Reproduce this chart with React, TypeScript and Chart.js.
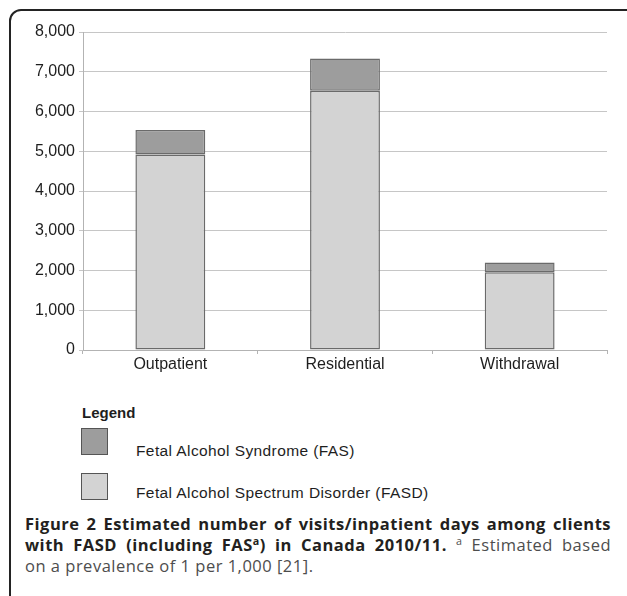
import React, { useEffect, useRef } from "react";
import { Chart, registerables } from "chart.js";

Chart.register(...registerables);

// Treatment settings on the x axis
const categories = ["Outpatient", "Residential", "Withdrawal"];
// Visits / inpatient days, stacked: FASD (excluding FAS) at the base, FAS on top
const fasdValues = [4920, 6520, 1955];
const fasValues = [615, 815, 245];
// Value axis range
const yMin = 0;
const yMax = 8000;
const yStep = 1000;

const seriesNames = ["Fetal Alcohol Syndrome (FAS)", "Fetal Alcohol Spectrum Disorder (FASD)"];
const seriesColors = ["#9d9d9d", "#d3d3d3"];
const barEdge = "#6a6a6a";

const axisFont = { family: "'Liberation Sans', Arial, sans-serif", size: 16 };

function BarChart() {
  const ref = useRef<HTMLCanvasElement | null>(null);

  useEffect(() => {
    if (!ref.current) return;
    const chart = new Chart(ref.current, {
      type: "bar",
      data: {
        labels: categories,
        datasets: [
          {
            label: seriesNames[1],
            data: fasdValues,
            backgroundColor: seriesColors[1],
            borderColor: barEdge,
            borderWidth: 1.5,
            borderSkipped: false,
            barPercentage: 0.4,
            categoryPercentage: 1,
          },
          {
            label: seriesNames[0],
            data: fasValues,
            backgroundColor: seriesColors[0],
            borderColor: barEdge,
            borderWidth: 1.5,
            borderSkipped: false,
            barPercentage: 0.4,
            categoryPercentage: 1,
          },
        ],
      },
      options: {
        animation: false,
        responsive: false,
        devicePixelRatio: 1,
        layout: { padding: { top: 32, right: 20, left: 0, bottom: 0 } },
        plugins: { legend: { display: false }, tooltip: { enabled: false } },
        scales: {
          x: {
            stacked: true,
            grid: {
              display: true,
              drawOnChartArea: false,
              drawTicks: true,
              tickLength: 4,
              color: "#b3b3b3",
              lineWidth: 1,
            },
            border: { display: true, color: "#b3b3b3", width: 1 },
            ticks: { font: axisFont, color: "#1e1e1e", padding: 1 },
            afterFit: (s: any) => {
              s.height = 30;
            },
          },
          y: {
            stacked: true,
            min: yMin,
            max: yMax,
            grid: { color: "#c6c6c6", lineWidth: 1, tickLength: 4 },
            border: { display: true, color: "#b3b3b3", width: 1 },
            ticks: {
              stepSize: yStep,
              font: axisFont,
              color: "#1e1e1e",
              padding: 4,
              callback: (v: any) => Number(v).toLocaleString("en-US"),
            },
            afterFit: (s: any) => {
              s.width = 83;
            },
          },
        },
      },
    });
    return () => chart.destroy();
  }, []);

  return (
    <canvas
      ref={ref}
      width={627}
      height={380}
      style={{ position: "absolute", left: 0, top: 0, width: 627, height: 380 }}
    />
  );
}

const legendFont = "'Liberation Sans', Arial, sans-serif";
const captionFont = "'Open Sans', 'Noto Sans', sans-serif";

export default function App() {
  const legendRows = [0, 1];
  return (
    <div
      style={{
        position: "fixed",
        left: 0,
        top: 0,
        width: 627,
        height: 596,
        overflow: "hidden",
        background: "#ffffff",
      }}
    >
      {/* Framed panel */}
      <div
        style={{
          position: "absolute",
          left: 9,
          top: 9,
          width: 630,
          height: 640,
          boxSizing: "border-box",
          border: "2px solid #232323",
          borderTopLeftRadius: 12,
          borderTopRightRadius: 12,
        }}
      />
      <BarChart />
      {/* Legend */}
      <div
        style={{
          position: "absolute",
          left: 82,
          top: 405,
          fontFamily: legendFont,
          fontWeight: "bold",
          fontSize: 15,
          lineHeight: "15px",
          color: "#1e1e1e",
        }}
      >
        Legend
      </div>
      {legendRows.map((i) => (
        <React.Fragment key={i}>
          <div
            style={{
              position: "absolute",
              left: 81,
              top: 428 + i * 45,
              width: 27,
              height: 27,
              boxSizing: "border-box",
              border: "1.5px solid #555555",
              background: seriesColors[i],
            }}
          />
          <div
            style={{
              position: "absolute",
              left: 136,
              top: 443 + i * 42,
              fontFamily: legendFont,
              fontSize: 15.5,
              lineHeight: "16px",
              color: "#1e1e1e",
              whiteSpace: "nowrap",
              letterSpacing: 0.4,
            }}
          >
            {seriesNames[i]}
          </div>
        </React.Fragment>
      ))}
      {/* Caption */}
      <div
        style={{
          position: "absolute",
          left: 25,
          top: 513,
          width: 586,
          fontFamily: captionFont,
          fontSize: 16.5,
          letterSpacing: 0.5,
          lineHeight: "21px",
          color: "#231f20",
        }}
      >
        <div style={{ fontWeight: 700, textAlign: "justify", textAlignLast: "justify", whiteSpace: "nowrap" }}>
          Figure 2 Estimated number of visits/inpatient days among clients
        </div>
        <div style={{ textAlign: "justify", textAlignLast: "justify", whiteSpace: "nowrap" }}>
          <span style={{ fontWeight: 700 }}>
            with FASD (including FAS<sup style={{ fontSize: "0.65em", lineHeight: 0 }}>a</sup>) in Canada 2010/11.
          </span>{" "}
          <span style={{ color: "#4d4d4d" }}>
            <sup style={{ fontSize: "0.65em", lineHeight: 0 }}>a</sup> Estimated based
          </span>
        </div>
        <div style={{ color: "#4d4d4d" }}>on a prevalence of 1 per 1,000 [21].</div>
      </div>
    </div>
  );
}
